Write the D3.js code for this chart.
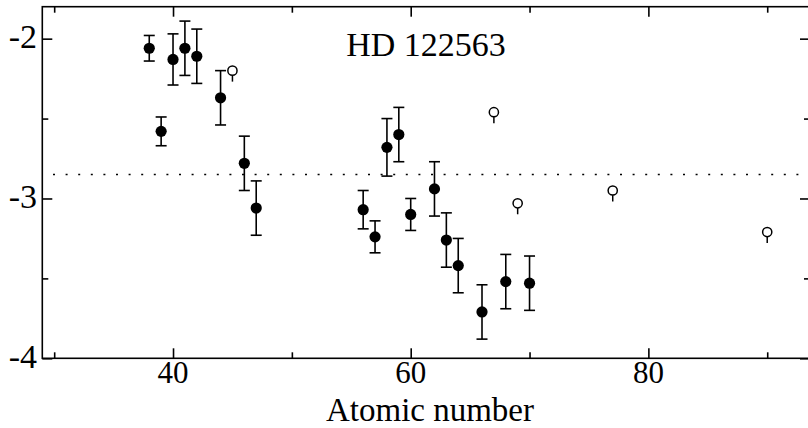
<!DOCTYPE html>
<html>
<head>
<meta charset="utf-8">
<script src="https://cdn.jsdelivr.net/npm/d3@7/dist/d3.min.js"></script>
<style>
  html, body { margin: 0; padding: 0; background: #fff; }
  svg { display: block; }
  text { font-family: "Liberation Serif", "Times New Roman", serif; fill: #000; }
</style>
</head>
<body>
<svg id="chart" width="808" height="428"></svg>
<script>
// Measured abundances with uncertainties (filled symbols)
const measZ   = [38, 39, 40, 41, 42, 44, 46, 47, 56, 57, 58, 59, 60, 62, 63, 64, 66, 68, 70];
const measVal = [-2.06, -2.58, -2.13, -2.06, -2.11, -2.37, -2.78, -3.06, -3.07, -3.24, -2.68, -2.60, -3.10, -2.94, -3.26, -3.42, -3.71, -3.52, -3.53];
const measErr = [0.08, 0.09, 0.16, 0.17, 0.17, 0.17, 0.17, 0.17, 0.12, 0.10, 0.18, 0.17, 0.10, 0.17, 0.17, 0.17, 0.17, 0.17, 0.17];

// Upper limits (open symbols)
const limZ   = [45, 67, 69, 77, 90];
const limVal = [-2.20, -2.46, -3.03, -2.95, -3.21];

// Reference level (dotted line)
const refLevel = -2.85;

// Axis ticks and labels
const xMajor = [40, 60, 80];
const xMinor = [30, 50, 70, 90];
const yMajor = [-2, -3, -4];
const yMinor = [-2.5, -3.5];
const titleText = "HD 122563";
const xLabel = "Atomic number";

const svg = d3.select("#chart");
const plotL = 42.3, plotR = 810, plotT = 6.7, plotB = 358.3;

const x = d3.scaleLinear().domain([29, 93.6]).range([plotL, plotR]);
const y = d3.scaleLinear().domain([-4, -1.8]).range([plotB, plotT]);

const lw = 1.6;

// Frame
svg.append("rect")
  .attr("x", plotL).attr("y", plotT)
  .attr("width", plotR - plotL).attr("height", plotB - plotT)
  .attr("fill", "none").attr("stroke", "#000").attr("stroke-width", lw);

function tickAxis(axisFn, scale, values, size, transform) {
  const g = svg.append("g").attr("transform", transform)
    .call(axisFn(scale).tickValues(values).tickSizeInner(size).tickSizeOuter(0).tickFormat(""));
  g.select(".domain").remove();
  g.selectAll(".tick line").attr("stroke", "#000").attr("stroke-width", lw);
  return g;
}

// Ticks point inward on all four sides
tickAxis(d3.axisBottom, x, xMajor, -10, `translate(0,${plotB})`);
tickAxis(d3.axisBottom, x, xMinor, -6, `translate(0,${plotB})`);
tickAxis(d3.axisTop, x, xMajor, -10, `translate(0,${plotT})`);
tickAxis(d3.axisTop, x, xMinor, -6, `translate(0,${plotT})`);
tickAxis(d3.axisLeft, y, yMajor, -10, `translate(${plotL},0)`);
tickAxis(d3.axisLeft, y, yMinor, -6, `translate(${plotL},0)`);
tickAxis(d3.axisRight, y, yMajor, -10, `translate(${plotR},0)`);
tickAxis(d3.axisRight, y, yMinor, -6, `translate(${plotR},0)`);

// Tick labels
svg.append("g").selectAll("text").data(xMajor).join("text")
  .attr("x", d => x(d)).attr("y", 383)
  .attr("text-anchor", "middle").attr("font-size", 31)
  .text(d => d);
svg.append("g").selectAll("text").data(yMajor).join("text")
  .attr("x", 37).attr("y", d => y(d) + 9.5)
  .attr("text-anchor", "end").attr("font-size", 34)
  .text(d => d);

// Axis title and plot title
svg.append("text").attr("x", 430).attr("y", 420.5)
  .attr("text-anchor", "middle").attr("font-size", 33).text(xLabel);
svg.append("text").attr("x", 426).attr("y", 56)
  .attr("text-anchor", "middle").attr("font-size", 34).text(titleText);

// Dotted reference line
svg.append("line")
  .attr("x1", 53).attr("x2", plotR)
  .attr("y1", y(refLevel)).attr("y2", y(refLevel))
  .attr("stroke", "#000").attr("stroke-width", 1.6)
  .attr("stroke-dasharray", "2,10.6");

// Error bars and filled points
const meas = measZ.map((z, i) => ({ z, v: measVal[i], e: measErr[i] }));
const eg = svg.append("g").attr("stroke", "#000").attr("stroke-width", lw);
meas.forEach(d => {
  const cx = x(d.z), y1 = y(d.v + d.e), y2 = y(d.v - d.e);
  eg.append("line").attr("x1", cx).attr("x2", cx).attr("y1", y1).attr("y2", y2);
  eg.append("line").attr("x1", cx - 5.5).attr("x2", cx + 5.5).attr("y1", y1).attr("y2", y1);
  eg.append("line").attr("x1", cx - 5.5).attr("x2", cx + 5.5).attr("y1", y2).attr("y2", y2);
});
svg.append("g").selectAll("circle").data(meas).join("circle")
  .attr("cx", d => x(d.z)).attr("cy", d => y(d.v)).attr("r", 5.6)
  .attr("fill", "#000");

// Upper limits: open circle with a short tail below
const lims = limZ.map((z, i) => ({ z, v: limVal[i] }));
const lg = svg.append("g").attr("stroke", "#000").attr("stroke-width", 1.5);
lims.forEach(d => {
  const cx = x(d.z), cy = y(d.v);
  lg.append("line").attr("x1", cx).attr("x2", cx).attr("y1", cy + 4.6).attr("y2", cy + 11);
  lg.append("circle").attr("cx", cx).attr("cy", cy).attr("r", 4.6).attr("fill", "#fff");
});
</script>
</body>
</html>
